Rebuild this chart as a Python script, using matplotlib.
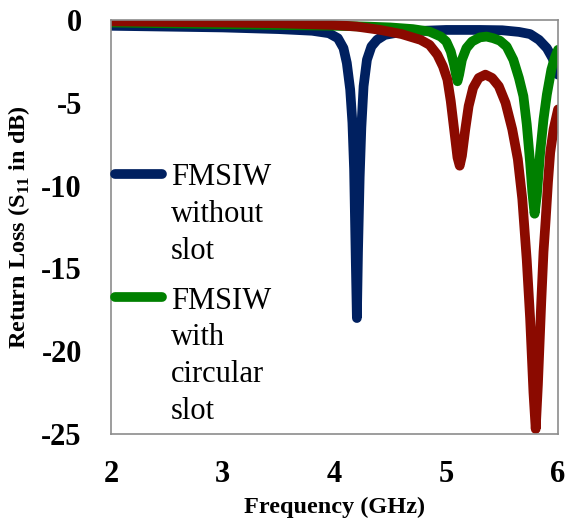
import numpy as np
import matplotlib
matplotlib.use("Agg")
import matplotlib.pyplot as plt
from matplotlib.legend_handler import HandlerLine2D
from matplotlib.lines import Line2D

plt.rcParams['font.family'] = 'Liberation Serif'
plt.rcParams['mathtext.fontset'] = 'custom'
plt.rcParams['mathtext.rm'] = 'Liberation Serif:bold'
plt.rcParams['mathtext.bf'] = 'Liberation Serif:bold'
plt.rcParams['axes.unicode_minus'] = False

# FMSIW without slot
f_plain = [2.0, 2.5, 3.0, 3.5, 3.8, 3.95, 4.03, 4.08, 4.11, 4.14, 4.16, 4.175,
           4.19, 4.2, 4.21, 4.225, 4.24, 4.26, 4.29, 4.33, 4.38, 4.45, 4.6, 4.8,
           5.0, 5.3, 5.5, 5.65, 5.75, 5.83, 5.9, 5.95, 5.98, 6.0]
s_plain = [-0.35, -0.4, -0.45, -0.55, -0.65, -0.8, -1.1, -1.7, -2.6, -4.2, -6.2, -9.0,
           -14.5, -18.0, -14.0, -9.5, -6.5, -4.0, -2.4, -1.6, -1.2, -0.9, -0.72, -0.65,
           -0.6, -0.6, -0.62, -0.72, -0.85, -1.2, -1.7, -2.3, -2.8, -3.3]

# FMSIW with circular slot
f_circ = [2.0, 3.0, 3.5, 4.0, 4.3, 4.5, 4.7, 4.85, 4.95, 5.0, 5.04, 5.07, 5.09,
          5.1, 5.115, 5.14, 5.18, 5.23, 5.3, 5.36, 5.42, 5.48, 5.54, 5.6, 5.65,
          5.69, 5.72, 5.75, 5.77, 5.79, 5.81, 5.84, 5.87, 5.9, 5.94, 5.97, 6.0]
s_circ = [-0.15, -0.25, -0.3, -0.35, -0.4, -0.45, -0.55, -0.7, -1.0, -1.3, -1.9, -2.7, -3.4,
          -3.7, -3.3, -2.4, -1.7, -1.3, -1.05, -1.0, -1.1, -1.25, -1.6, -2.4, -3.5,
          -4.6, -6.3, -8.6, -10.4, -11.7, -10.6, -8.0, -6.0, -4.5, -3.0, -2.3, -1.8]

# third design (no legend entry)
f_other = [2.0, 2.5, 3.0, 3.5, 4.0, 4.2, 4.41, 4.6, 4.77, 4.85, 4.92, 4.97, 5.01,
           5.04, 5.07, 5.1, 5.12, 5.14, 5.17, 5.2, 5.24, 5.29, 5.35, 5.41, 5.47,
           5.53, 5.59, 5.64, 5.68, 5.72, 5.75, 5.78, 5.8, 5.82, 5.85, 5.87, 5.89,
           5.91, 5.93, 5.96, 6.0]
s_other = [-0.08, -0.12, -0.15, -0.2, -0.3, -0.4, -0.6, -0.85, -1.2, -1.5, -2.1, -2.8, -3.6,
           -4.9, -6.6, -8.3, -8.8, -8.2, -6.6, -5.2, -4.1, -3.5, -3.3, -3.5, -4.0,
           -5.0, -6.6, -8.4, -10.8, -14.5, -18.0, -22.5, -24.7, -22.0, -17.0, -14.0, -12.0,
           -9.8, -8.0, -6.6, -5.4]

labels = ['FMSIW\nwithout\nslot', 'FMSIW\nwith\ncircular\nslot']
leg_fs = 22


class FirstLineHandler(HandlerLine2D):
    # put the legend swatch next to the first line of a multi-line label
    def __init__(self, nlines, **kw):
        super().__init__(**kw)
        self.nlines = nlines

    def create_artists(self, legend, orig_handle, xdescent, ydescent,
                       width, height, fontsize, trans):
        arts = super().create_artists(legend, orig_handle, xdescent, ydescent,
                                      width, height, fontsize, trans)
        shift = (self.nlines - 1) / 2 * 1.2 * fontsize + 3
        for a in arts:
            if isinstance(a, Line2D):
                a.set_ydata(np.asarray(a.get_ydata()) + shift)
        return arts


fig = plt.figure(figsize=(5.67, 5.22), dpi=100)
ax = fig.add_axes([0.1958, 0.1686, 0.7884, 0.7931])

l1, = ax.plot(f_plain, s_plain, color='#002060', lw=7, solid_capstyle='round')
l2, = ax.plot(f_circ, s_circ, color='#008000', lw=7, solid_capstyle='round')
ax.plot(f_other, s_other, color='#8b0a00', lw=7, solid_capstyle='round')

ax.set_xlim(2, 6)
ax.set_ylim(-25, 0)
ax.set_xticks([2, 3, 4, 5, 6])
ax.set_yticks([0, -5, -10, -15, -20, -25])
ax.tick_params(length=0, labelsize=22)
ax.tick_params(axis='y', pad=21)
ax.tick_params(axis='x', pad=19)
for t in ax.get_xticklabels() + ax.get_yticklabels():
    t.set_fontweight('bold')
for s in ax.spines.values():
    s.set_color('#8c8c8c')
    s.set_linewidth(1.2)

ax.set_xlabel('Frequency (GHz)', fontsize=17.5, fontweight='bold', labelpad=5)
ax.set_ylabel(r'Return Loss (S$_{\mathbf{11}}$ in dB)', fontsize=17.5,
              fontweight='bold')
ax.yaxis.set_label_coords(-0.177, 0.5)

leg = ax.legend([l1, l2], labels, loc='upper left', bbox_to_anchor=(0.008, 0.654),
                frameon=False, fontsize=leg_fs, handlelength=1.55, handletextpad=0.3,
                borderpad=0, borderaxespad=0, labelspacing=0.68,
                handler_map={l1: FirstLineHandler(3), l2: FirstLineHandler(4)})
for t in leg.get_texts():
    t.set_linespacing(1.355)

fig.savefig('out.png', dpi=100)
